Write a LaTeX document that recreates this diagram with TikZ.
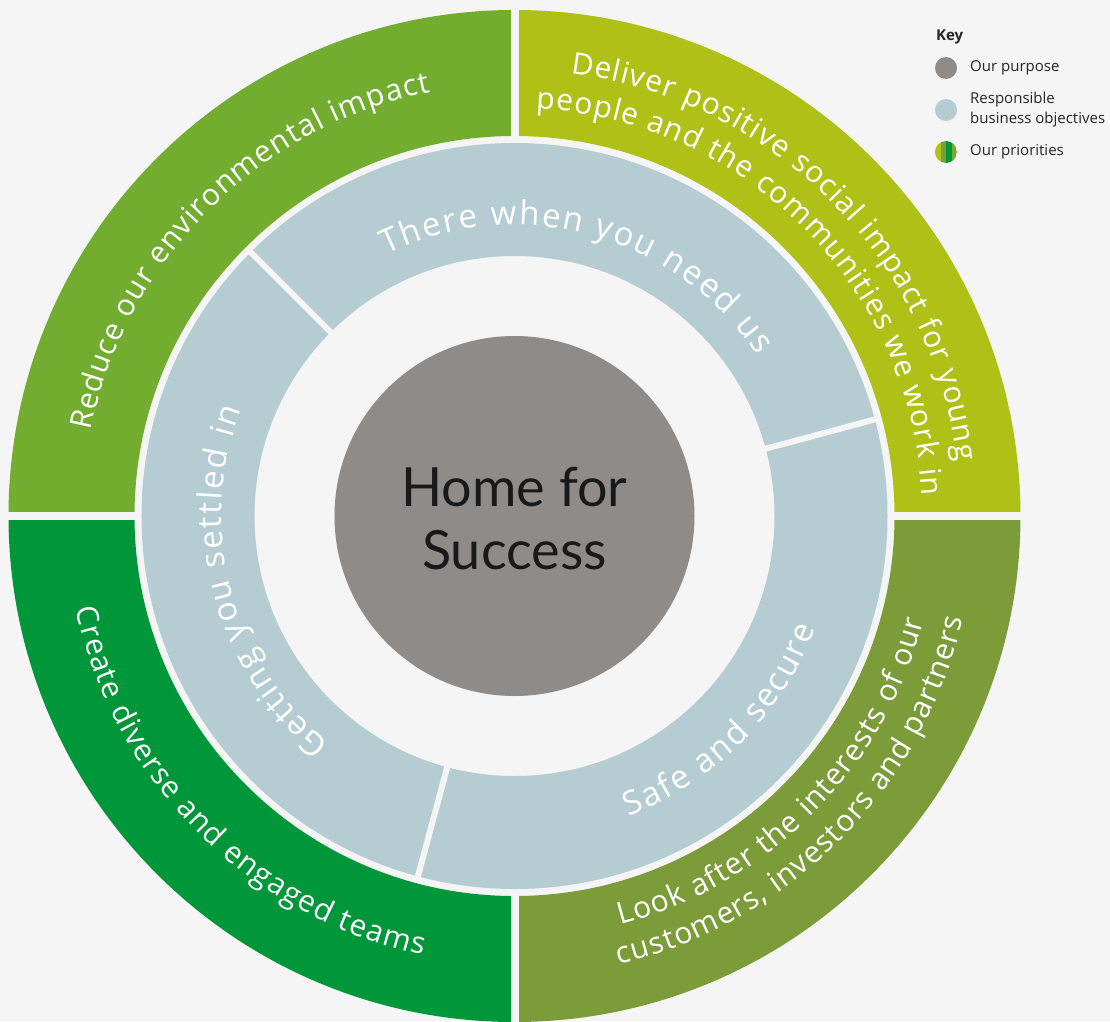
\documentclass[tikz,border=0pt]{standalone}
\usepackage{fontspec}
\setmainfont{Open Sans}
\newfontfamily\latofont{Lato}
\usetikzlibrary{decorations.text}
\definecolor{bgc}{HTML}{F5F5F5}
\definecolor{purposegrey}{HTML}{8F8B88}
\definecolor{objblue}{HTML}{B5CDD2}
\definecolor{envgreen}{HTML}{72AD2F}
\definecolor{socialgreen}{HTML}{AFC117}
\definecolor{teamgreen}{HTML}{00963A}
\definecolor{olivegreen}{HTML}{7C9B39}
\newcommand\outerfont{\fontsize{30}{34}\selectfont\kern1.1pt}
\newcommand\middlefont{\fontsize{33}{40}\selectfont\kern2pt}

\begin{document}
\begin{tikzpicture}[x=1pt, y=1pt,
    ringtext/.style={decorate, decoration={text along path, text align=center, text color=white, text={#1}}},
    gap/.style={draw=bgc, line width=#1},
    keydot/.style={circle, inner sep=0pt, minimum size=22pt},
    keylabel/.style={anchor=west, inner sep=0pt, align=left, text=black!85, font=\fontsize{15}{20}\selectfont}]
    \useasboundingbox (-514.5,-505) rectangle (595.5,516);
    \fill[bgc] (-514.5,-505) rectangle (595.5,516);
    \foreach \a/\c in {90/envgreen, 0/socialgreen, 180/teamgreen, 270/olivegreen}
        \fill[\c] (\a:380) arc[start angle=\a, delta angle=90, radius=380] -- (\a+90:506)
            arc[start angle=\a+90, delta angle=-90, radius=506] -- cycle;
    \foreach \a in {0, 90, 180, 270}
        \path[gap=8pt] (\a:370) -- (\a:512);
    \fill[objblue, even odd rule] (0,0) circle[radius=373] (0,0) circle[radius=260];
    \foreach \a in {15, 135, 255}
        \path[gap=6pt] (\a:255) -- (\a:378);
    \node[circle, fill=purposegrey, minimum size=360pt, inner sep=0pt] (purpose) at (0,0) {};
    \node[align=center, text=black!90, font=\latofont\fontsize{54}{63}\selectfont] (purposetext) at (0,-3) {Home for\\Success};
    % priorities
    \path[ringtext={|\outerfont|Reduce our environmental impact}] (180:432) arc[start angle=180, end angle=90, radius=432];
    \path[ringtext={|\outerfont|Deliver positive social impact for young}] (90:446) arc[start angle=90, end angle=0, radius=446];
    \path[ringtext={|\outerfont|people and the communities we work in}] (90:408) arc[start angle=90, end angle=0, radius=408];
    \path[ringtext={|\outerfont|Create diverse and engaged teams}] (180:448) arc[start angle=180, end angle=270, radius=448];
    \path[ringtext={|\outerfont|Look after the interests of our}] (270:422) arc[start angle=270, end angle=360, radius=422];
    \path[ringtext={|\outerfont|customers, investors and partners}] (270:460) arc[start angle=270, end angle=360, radius=460];
    % objectives
    \path[ringtext={|\middlefont|There when you need us}] (135:291) arc[start angle=135, end angle=15, radius=291];
    \path[ringtext={|\middlefont|Getting you settled in}] (255:293) arc[start angle=255, end angle=135, radius=293];
    \path[ringtext={|\middlefont|Safe and secure}] (255:321) arc[start angle=255, end angle=375, radius=321];
    % key
    \node[keylabel, font=\bfseries\fontsize{15}{20}\selectfont] (keytitle) at (421.5,479) {Key};
    \node[keydot, fill=purposegrey] (keypurpose) at (431.5,448) {};
    \node[keydot, fill=objblue] (keyobj) at (431.5,406) {};
    \node[keydot] (keyprio) at (431.5,364) {};
    \begin{scope}
        \clip (keyprio.center) circle[radius=11];
        \fill[socialgreen] (420.5,353) rectangle ++(5.5,22);
        \fill[olivegreen] (426,353) rectangle ++(5.5,22);
        \fill[teamgreen] (431.5,353) rectangle ++(5.5,22);
        \fill[envgreen] (437,353) rectangle ++(5.5,22);
    \end{scope}
    \node[keylabel] (purposelabel) at (455.5,448) {Our purpose};
    \node[keylabel] (objlabel) at (455.5,406) {Responsible\\business objectives};
    \node[keylabel] (priolabel) at (455.5,364) {Our priorities};
\end{tikzpicture}
\end{document}
